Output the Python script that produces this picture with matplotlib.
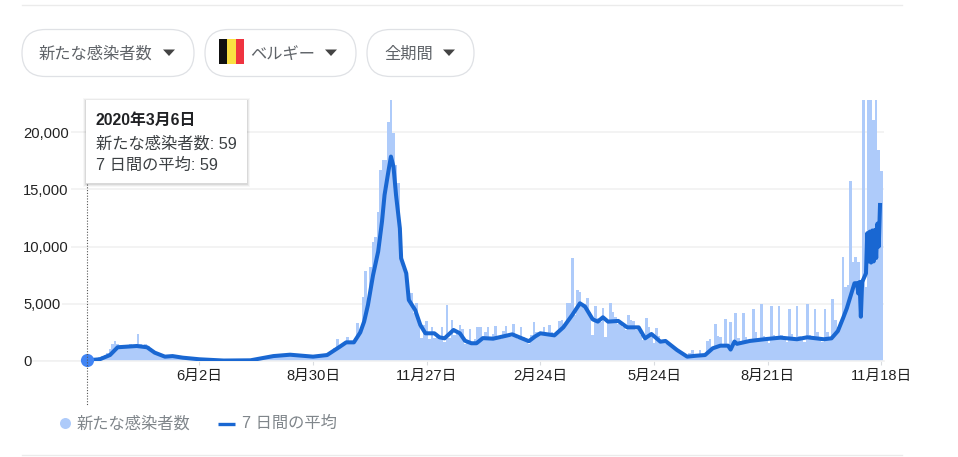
import matplotlib
matplotlib.use("Agg")
import matplotlib.pyplot as plt
from matplotlib.patches import FancyBboxPatch, Rectangle, Polygon, Circle

plt.rcParams['font.family'] = ['Liberation Sans', 'Noto Sans CJK JP', 'DejaVu Sans']

W, H = 958, 457

# daily cases, read every second day starting 2020-03-06
CASES = [
    59, 90, 130, 180, 240, 330, 420, 560, 720, 1050,
    1500, 1770, 1500, 1400, 1300, 1350, 1400, 1450, 1400, 1350,
    2360, 1500, 1400, 1500, 1300, 1100, 900, 750, 600, 500,
    430, 400, 430, 450, 420, 360, 320, 300, 280, 260,
    240, 220, 200, 190, 170, 160, 150, 140, 130, 120,
    110, 100, 95, 90, 85, 80, 75, 70, 65, 60,
    60, 60, 65, 75, 85, 100, 120, 150, 190, 230,
    280, 330, 380, 430, 470, 490, 510, 530, 540, 560,
    600, 560, 520, 500, 470, 450, 420, 400, 380, 370,
    380, 400, 450, 520, 600, 750, 900, 1100, 1900, 1350,
    1500, 1600, 2100, 1650, 1700, 2000, 3300, 2700, 5620, 7860,
    5000, 8240, 10430, 10870, 13050, 16690, 17570, 17570, 20920, 23500,
    19900, 17130, 15560, 11000, 8100, 7700, 6060, 5900, 4200, 5070,
    3150, 2000, 3150, 3500, 1900, 3000, 2000, 2400, 2000, 3000,
    1700, 4890, 2000, 3600, 2300, 2550, 3150, 2800, 1500, 1800,
    2800, 1700, 1900, 3000, 3000, 2000, 2500, 3000, 2000, 2400,
    3100, 2200, 1900, 2600, 3100, 2200, 2100, 3200, 2300, 1900,
    3000, 2100, 1700, 1500, 2300, 3450, 2500, 2400, 2500, 3000,
    2300, 3150, 2500, 2100, 2600, 3520, 3580, 3000, 5040, 5040,
    8970, 4000, 6200, 6060, 4750, 5000, 5480, 4310, 2300, 4800,
    3760, 3400, 4630, 2100, 3400, 5040, 4300, 3870, 3200, 3500,
    3000, 2700, 4020, 3600, 3500, 2700, 2800, 2300, 1800, 3760,
    3000, 2400, 1600, 2880, 2200, 1700, 1750, 1500, 1400, 1300,
    1100, 900, 800, 600, 500, 500, 700, 960, 500, 600,
    960, 600, 700, 1780, 1920, 1200, 3230, 2200, 2100, 1500,
    3700, 1300, 3400, 1700, 4150, 2040, 1700, 4220, 2100, 1800,
    1700, 4540, 2500, 1900, 4950, 2200, 2000, 1600, 4840, 2300,
    1900, 4840, 2300, 1900, 1700, 4540, 2400, 1900, 4840, 2200,
    1900, 1700, 4950, 2300, 1900, 4540, 2500, 1900, 1700, 4540,
    2500, 2100, 5420, 3580, 3000, 3400, 9060, 6500, 6600, 15760,
    8680, 9060, 8680, 3900, 23500, 6500, 23500, 23500, 21060, 23500,
    18400, 16640,
]

# 7 day average
AVG_DAYS = [
    0, 10, 18, 24, 39, 47, 53, 61, 67, 75, 88, 107, 128, 146, 159, 177, 188, 198,
    203, 209, 214, 217, 220, 224, 228, 231, 233, 236, 238, 240, 242, 245, 246, 250,
    252, 257, 261, 265, 272, 276, 280, 287, 292, 296, 301, 305, 310, 318, 326, 333,
    339, 346, 351, 355, 366, 373, 380, 386, 390, 396, 400, 404, 408, 416, 423, 432,
    437, 442, 449, 453, 462, 470, 477, 484, 490, 496, 502, 504, 507, 509, 519, 532,
    543, 556, 564, 577, 583, 588, 592, 595, 601, 603, 604, 605, 606, 607, 609, 610,
    611, 612, 613, 614, 615, 616, 617, 618, 619, 620, 621,
]
AVG_VALUES = [
    59, 150, 520, 1200, 1310, 1200, 730, 380, 430, 290, 150, 40, 60, 430, 550, 380, 520, 1250,
    1630, 1630, 2500, 3440, 4890, 7500, 9560, 12180, 14500, 16550, 17860, 16980, 14500, 11590, 8970, 7660,
    5330, 4450, 3150, 2420, 2420, 2070, 1980, 2710, 2420, 1770, 1550, 1550, 2000, 1950, 2150, 2330,
    2050, 1730, 2150, 2420, 2240, 2940, 4020, 5040, 4750, 3640, 3440, 3820, 3440, 3500, 2940, 2940,
    1980, 2360, 1690, 1750, 960, 380, 460, 520, 1110, 1340, 1340, 1000, 1700, 1500, 1750, 1920,
    2040, 1900, 2070, 1900, 1980, 2620, 3730, 4600, 6790, 6800, 5900, 6900, 3870, 6900, 7400, 7660,
    11160, 8700, 11300, 8600, 11400, 8700, 11450, 9000, 12000, 10000, 13630,
]

Y_TICKS = [0, 5000, 10000, 15000, 20000]
Y_LABELS = ['0', '5,000', '10,000', '15,000', '20,000']
X_TICKS = [88, 177, 266, 355, 444, 533, 622]
X_LABELS = ['6月2日', '8月30日', '11月27日', '2月24日', '5月24日', '8月21日', '11月18日']

PILLS = [(22, 172, '新たな感染者数'), (205, 151, 'ベルギー'), (367, 107, '全期間')]
TOOLTIP_DATE = '2020年3月6日'
TOOLTIP_LINES = ['新たな感染者数: 59', '7 日間の平均: 59']
LEGEND_BAR = '新たな感染者数'
LEGEND_LINE = '7 日間の平均'

BAR_COLOR = '#aecbfa'
LINE_COLOR = '#1967d2'
TEXT_GREY = '#5f6368'

fig = plt.figure(figsize=(W / 100, H / 100), dpi=100)

# chart axes, placed so that day 0 is at x=87 and value 0 at y=361
left, right, top, bottom = 23, 884, 100, 361
px_per_day = 1.277
ax = fig.add_axes([left / W, 1 - bottom / H, (right - left) / W, (bottom - top) / H])
ax.set_xlim((left - 87) / px_per_day, (right - 87) / px_per_day)
ax.set_ylim(0, 22800)

days = [i * 2 for i in range(len(CASES))]
ax.bar(days, CASES, width=2.0, color=BAR_COLOR, linewidth=0, zorder=2)
ax.plot(AVG_DAYS, AVG_VALUES, color=LINE_COLOR, linewidth=2.9, solid_joinstyle='round', zorder=3)
ax.plot([0], [AVG_VALUES[0]], 'o', color='#4285f4', markersize=9.5, markeredgewidth=0,
        clip_on=False, zorder=4)

ax.set_yticks(Y_TICKS, Y_LABELS)
ax.set_xticks(X_TICKS, X_LABELS)
ax.grid(axis='y', color='#f1f1f1', linewidth=1.2, zorder=1)
ax.tick_params(axis='y', length=0, pad=0, labelsize=10.6, labelcolor='#222222')
ax.tick_params(axis='x', length=3, width=0.8, color='#dadce0', pad=3, labelsize=10.6, labelcolor='#222222')
# labels sit over the start of the gridlines, left aligned
for label in ax.get_yticklabels():
    label.set_ha('left')
    label.set_bbox(dict(facecolor='white', edgecolor='none', pad=1.5))
for name in ['top', 'left', 'right']:
    ax.spines[name].set_visible(False)
ax.spines['bottom'].set_color('#f1f1f1')
ax.spines['bottom'].set_linewidth(1.2)
# baseline starts right after the "0" label
ax.spines['bottom'].set_bounds((33 - 87) / px_per_day, (right - 87) / px_per_day)

# page furniture in pixel coordinates
ui = fig.add_axes([0, 0, 1, 1], zorder=5)
ui.set_xlim(0, W)
ui.set_ylim(H, 0)
ui.axis('off')
ui.patch.set_alpha(0)

ui.plot([22, 902], [4.5, 4.5], color='#ebebeb', linewidth=1)
ui.plot([22, 902], [455, 455], color='#ebebeb', linewidth=1)

for x, w, label in PILLS:
    ui.add_patch(FancyBboxPatch((x + 23.5, 29.5 + 23.5), w - 47, 0, boxstyle='round,pad=23.5,rounding_size=23.5',
                                facecolor='white', edgecolor='#dfe1e5', linewidth=0.9))
    tx = x + 17 if label != 'ベルギー' else x + 45
    ui.text(tx, 54, label, fontsize=11.7, color=TEXT_GREY, va='center', ha='left')
    tri = x + w - 25
    ui.add_patch(Polygon([(tri - 6, 49.5), (tri + 6, 49.5), (tri, 56)], closed=True,
                         facecolor='#444444', edgecolor='none'))

# belgian flag on the second pill
ui.add_patch(Rectangle((219, 39), 8.5, 25, facecolor='#111111', edgecolor='none'))
ui.add_patch(Rectangle((227.5, 39), 8.5, 25, facecolor='#fae042', edgecolor='none'))
ui.add_patch(Rectangle((236, 39), 8.5, 25, facecolor='#ef3340', edgecolor='none'))

# tooltip crosshair and box
ui.plot([87.5, 87.5], [184, 406], color='#555555', linewidth=0.8, linestyle=(0, (1, 1.5)), zorder=1)
for off, alpha in [(3, 0.03), (2, 0.05), (1, 0.07)]:
    ui.add_patch(Rectangle((86 - off, 100 - off + 1), 161 + 2 * off, 83 + 2 * off,
                           facecolor='black', alpha=alpha, edgecolor='none', zorder=2))
ui.add_patch(Rectangle((86, 100), 161, 83, facecolor='white', edgecolor='none', zorder=3))
ui.text(96, 120.5, TOOLTIP_DATE, fontsize=11.4, fontweight='bold', color='#202124', va='center', zorder=4)
ui.text(96, 144, TOOLTIP_LINES[0], fontsize=11.7, color='#3c4043', va='center', zorder=4)
ui.text(96, 165, TOOLTIP_LINES[1], fontsize=11.7, color='#3c4043', va='center', zorder=4)

# legend
ui.add_patch(Circle((65.5, 423.5), 5.5, facecolor=BAR_COLOR, edgecolor='none'))
ui.text(77, 423.5, LEGEND_BAR, fontsize=11.7, color='#80868b', va='center')
ui.plot([218, 235], [423.5, 423.5], color=LINE_COLOR, linewidth=2.4, solid_capstyle='butt')
ui.text(242, 423.5, LEGEND_LINE, fontsize=11.7, color='#80868b', va='center')

fig.savefig('out.png', dpi=100)
print(len(CASES), len(AVG_DAYS), len(AVG_VALUES))
